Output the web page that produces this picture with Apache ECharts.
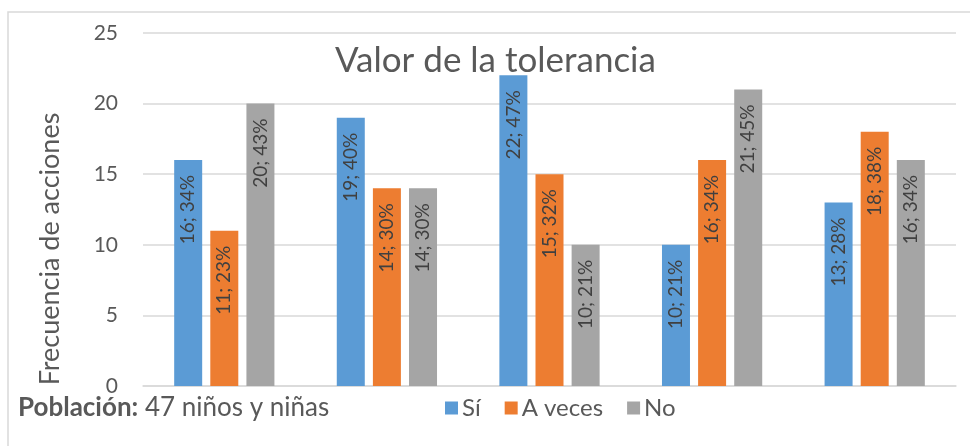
<!DOCTYPE html>
<html>
<head>
<meta charset="utf-8">
<script src="https://cdn.jsdelivr.net/npm/echarts@6/dist/echarts.min.js"></script>
<style>
	html, body { margin: 0; padding: 0; background: #fff; }
	#chart { width: 970px; height: 446px; }
</style>
</head>
<body>
<div id="chart"></div>
<script>
// data
var categories = ['1', '2', '3', '4', '5'];
var si = [16, 19, 22, 10, 13];
var aveces = [11, 14, 15, 16, 18];
var no = [20, 14, 10, 21, 16];
var siPct = [34, 40, 47, 21, 28];
var avecesPct = [23, 30, 32, 34, 38];
var noPct = [43, 30, 21, 45, 34];
var yTicks = [0, 5, 10, 15, 20, 25];

var font = 'Lato, "Open Sans", sans-serif';
var colors = ['#5b9bd5', '#ed7d31', '#a5a5a5'];

var makeSeries = function (name, values, pct, color) {
	return {
		name: name,
		type: 'bar',
		barWidth: 28,
		barGap: '29%',
		itemStyle: { color: color },
		label: {
			show: true,
			position: 'insideTop',
			rotate: 90,
			align: 'right',
			verticalAlign: 'middle',
			distance: 15,
			color: '#404040',
			fontFamily: font,
			fontSize: 19,
			formatter: function (p) {
				return values[p.dataIndex] + '; ' + pct[p.dataIndex] + '%';
			}
		},
		data: values
	};
};

var myChart = echarts.init(document.getElementById('chart'));
var option = {
	animation: false,
	title: {
		text: 'Valor de la tolerancia',
		left: 330,
		top: 38,
		textStyle: { color: '#595959', fontFamily: font, fontWeight: 'normal', fontSize: 35 }
	},
	legend: {
		bottom: 21,
		left: 440,
		itemWidth: 13,
		itemHeight: 13,
		itemGap: 24,
		icon: 'rect',
		textStyle: { color: '#595959', fontFamily: font, fontSize: 24, padding: [0, 0, 0, -1] },
		data: ['Sí', 'A veces', 'No']
	},
	graphic: [
		{
			type: 'rect',
			shape: { x: 8, y: 12, width: 1000, height: 500 },
			style: { fill: 'none', stroke: '#d9d9d9', lineWidth: 1.5 }
		},
		{
			type: 'text',
			left: 18,
			top: 395,
			style: {
				text: '{b|Población:} 47 niños y niñas',
				rich: {
					b: { fontWeight: 'bold', fontSize: 26, fontFamily: font, fill: '#595959' }
				},
				fontSize: 26,
				fontFamily: font,
				fill: '#595959'
			}
		},
		{
			type: 'text',
			x: 50,
			y: 249,
			rotation: Math.PI / 2,
			style: {
				text: 'Frecuencia de acciones',
				align: 'center',
				verticalAlign: 'middle',
				fontSize: 27,
				fontFamily: font,
				fill: '#595959'
			}
		}
	],
	grid: { left: 143, right: 14, top: 33, bottom: 60 },
	xAxis: {
		type: 'category',
		data: categories,
		axisLine: { lineStyle: { color: '#d9d9d9', width: 1.5 } },
		axisTick: { show: false },
		axisLabel: { show: false }
	},
	yAxis: {
		type: 'value',
		min: yTicks[0],
		max: yTicks[yTicks.length - 1],
		interval: 5,
		axisLabel: { color: '#595959', fontFamily: font, fontSize: 21, margin: 25 },
		splitLine: { lineStyle: { color: '#d9d9d9', width: 1.5 } }
	},
	series: [
		makeSeries('Sí', si, siPct, colors[0]),
		makeSeries('A veces', aveces, avecesPct, colors[1]),
		makeSeries('No', no, noPct, colors[2])
	]
};
myChart.setOption(option);
</script>
</body>
</html>
